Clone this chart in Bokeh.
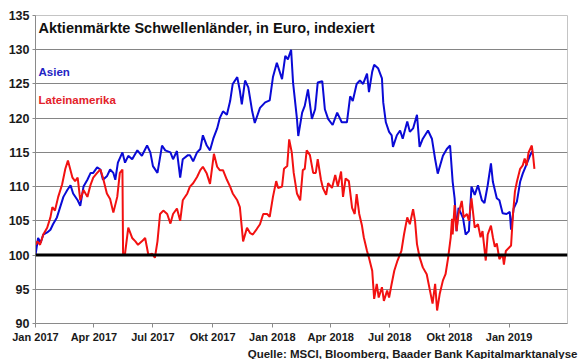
import pandas as pd
from bokeh.plotting import figure
from bokeh.models import Range1d, FixedTicker, Span, Label, ColumnDataSource, Title
from bokeh.embed import file_html
from bokeh.resources import INLINE

# ---------------- data ----------------
title_text = "Aktienmärkte Schwellenländer, in Euro, indexiert"
source_text = "Quelle: MSCI, Bloomberg, Baader Bank Kapitalmarktanalyse"
series_names = ["Asien", "Lateinamerika"]

asien_dates = [
    "2017-01-01", "2017-01-05", "2017-01-09", "2017-01-13", "2017-01-19", "2017-01-24", "2017-01-28",
    "2017-02-03", "2017-02-08", "2017-02-13", "2017-02-19", "2017-02-24", "2017-02-28", "2017-03-07",
    "2017-03-11", "2017-03-16", "2017-03-22", "2017-03-27", "2017-03-31", "2017-04-06", "2017-04-11",
    "2017-04-15", "2017-04-21", "2017-04-26", "2017-05-01", "2017-05-04", "2017-05-08", "2017-05-15",
    "2017-05-19", "2017-05-24", "2017-05-30", "2017-06-07", "2017-06-14", "2017-06-22", "2017-06-27",
    "2017-07-01", "2017-07-08", "2017-07-15", "2017-07-20", "2017-07-28", "2017-08-01", "2017-08-07",
    "2017-08-12", "2017-08-16", "2017-08-24", "2017-08-27", "2017-09-01", "2017-09-07", "2017-09-12",
    "2017-09-16", "2017-09-22", "2017-09-27", "2017-10-02", "2017-10-08", "2017-10-12", "2017-10-17",
    "2017-10-23", "2017-10-28", "2017-11-01", "2017-11-08", "2017-11-12", "2017-11-15", "2017-11-20",
    "2017-11-25", "2017-12-01", "2017-12-05", "2017-12-13", "2017-12-21", "2017-12-28",
    "2018-01-02", "2018-01-08", "2018-01-16", "2018-01-21", "2018-01-25", "2018-01-30", "2018-02-02",
    "2018-02-08", "2018-02-10", "2018-02-16", "2018-02-20", "2018-02-25", "2018-03-03", "2018-03-08",
    "2018-03-12", "2018-03-19", "2018-03-23", "2018-03-28", "2018-04-04", "2018-04-11", "2018-04-18",
    "2018-04-26", "2018-05-01", "2018-05-05", "2018-05-11", "2018-05-16", "2018-05-21", "2018-05-27",
    "2018-05-30", "2018-06-04", "2018-06-07", "2018-06-13", "2018-06-19", "2018-06-21", "2018-06-25",
    "2018-06-30", "2018-07-04", "2018-07-06", "2018-07-12", "2018-07-17", "2018-07-21", "2018-07-28",
    "2018-08-01", "2018-08-06", "2018-08-12", "2018-08-16", "2018-08-21", "2018-08-29", "2018-09-04",
    "2018-09-09", "2018-09-13", "2018-09-21", "2018-09-27", "2018-10-02", "2018-10-06", "2018-10-09",
    "2018-10-12", "2018-10-15", "2018-10-22", "2018-10-26", "2018-10-31", "2018-11-04", "2018-11-09",
    "2018-11-14", "2018-11-20", "2018-11-24", "2018-11-29", "2018-12-04", "2018-12-07", "2018-12-13",
    "2018-12-17", "2018-12-22", "2018-12-28", "2019-01-02", "2019-01-04", "2019-01-08", "2019-01-13",
    "2019-01-18", "2019-01-22", "2019-01-28", "2019-02-02", "2019-02-06",
]
asien_values = [
    100.0, 102.5, 101.8, 103.0, 103.3, 103.7, 104.5,
    105.5, 107.0, 108.5, 109.5, 110.2, 109.0, 108.0,
    107.2, 110.0, 111.0, 112.0, 112.0, 112.8, 112.5,
    111.0, 111.5, 112.5, 112.0, 111.0, 113.5, 115.0,
    113.5, 114.5, 114.0, 115.3, 114.5, 116.0, 115.0,
    113.0, 112.0, 116.0, 115.3, 115.0, 114.0, 115.2,
    111.3, 114.0, 114.6, 114.6, 113.7, 115.0, 115.5,
    117.5, 116.0, 115.3, 117.0, 118.5, 120.0, 121.0,
    120.5, 122.5, 125.0, 126.0, 124.0, 122.0, 125.5,
    124.5, 121.0, 119.3, 121.5, 122.3, 122.6,
    126.0, 128.1, 125.7, 129.1, 128.6, 130.0, 125.2,
    119.9, 117.4, 120.8, 121.8, 124.2, 119.9, 121.3,
    125.2, 125.4, 121.3, 119.9, 119.0, 120.8, 119.4,
    119.4, 123.2, 122.5, 125.0, 125.5, 125.0, 126.5,
    123.8, 126.8, 127.8, 127.3, 125.8, 122.3, 119.4,
    118.0, 117.5, 115.8, 117.5, 118.2, 117.0, 119.5,
    118.0, 118.5, 120.5, 115.8, 117.0, 118.2, 117.0,
    114.0, 111.9, 114.5, 115.5, 116.0, 110.7, 108.3,
    103.5, 106.9, 105.4, 103.0, 103.5, 110.0, 108.8,
    110.2, 108.0, 107.6, 110.2, 113.4, 110.7, 108.3,
    108.0, 106.1, 106.0, 106.3, 103.7, 106.8, 107.8,
    110.7, 111.9, 113.3, 114.5, 115.2,
]

latam_dates = [
    "2017-01-01", "2017-01-04", "2017-01-08", "2017-01-13", "2017-01-19", "2017-01-24", "2017-01-27",
    "2017-01-31", "2017-02-05", "2017-02-11", "2017-02-16", "2017-02-20", "2017-02-27", "2017-03-03",
    "2017-03-07", "2017-03-11", "2017-03-16", "2017-03-22", "2017-03-27", "2017-03-31", "2017-04-06",
    "2017-04-11", "2017-04-15", "2017-04-21", "2017-04-26", "2017-05-01", "2017-05-07", "2017-05-11",
    "2017-05-15", "2017-05-16", "2017-05-19", "2017-05-24", "2017-05-30", "2017-06-04", "2017-06-08",
    "2017-06-14", "2017-06-19", "2017-06-24", "2017-06-30", "2017-07-04", "2017-07-08", "2017-07-12",
    "2017-07-17", "2017-07-23", "2017-07-28", "2017-08-01", "2017-08-07", "2017-08-12", "2017-08-16",
    "2017-08-23", "2017-08-27", "2017-09-01", "2017-09-07", "2017-09-12", "2017-09-16", "2017-09-22",
    "2017-09-27", "2017-10-03", "2017-10-08", "2017-10-12", "2017-10-17", "2017-10-23", "2017-10-28",
    "2017-11-01", "2017-11-08", "2017-11-12", "2017-11-17", "2017-11-23", "2017-11-28", "2017-12-02",
    "2017-12-08", "2017-12-13", "2017-12-18", "2017-12-24", "2017-12-28",
    "2018-01-02", "2018-01-07", "2018-01-10", "2018-01-16", "2018-01-19", "2018-01-24", "2018-01-27",
    "2018-01-31", "2018-02-03", "2018-02-08", "2018-02-13", "2018-02-17", "2018-02-20", "2018-02-23",
    "2018-02-28", "2018-03-05", "2018-03-09", "2018-03-12", "2018-03-17", "2018-03-20", "2018-03-25",
    "2018-03-28", "2018-04-03", "2018-04-08", "2018-04-12", "2018-04-17", "2018-04-20", "2018-04-24",
    "2018-04-29", "2018-05-04", "2018-05-08", "2018-05-11", "2018-05-15", "2018-05-19", "2018-05-22",
    "2018-05-27", "2018-05-30", "2018-06-04", "2018-06-07", "2018-06-11", "2018-06-14", "2018-06-19",
    "2018-06-22", "2018-06-27", "2018-06-30", "2018-07-04", "2018-07-08", "2018-07-13", "2018-07-19",
    "2018-07-23", "2018-07-28", "2018-08-01", "2018-08-06", "2018-08-09", "2018-08-12", "2018-08-16",
    "2018-08-21", "2018-08-27", "2018-09-01", "2018-09-05", "2018-09-09", "2018-09-12", "2018-09-16",
    "2018-09-21", "2018-09-25", "2018-09-29", "2018-10-03", "2018-10-05", "2018-10-06", "2018-10-09",
    "2018-10-12", "2018-10-15", "2018-10-20", "2018-10-23", "2018-10-28", "2018-10-31", "2018-11-04",
    "2018-11-09", "2018-11-14", "2018-11-18", "2018-11-21", "2018-11-26", "2018-11-29", "2018-12-04",
    "2018-12-07", "2018-12-10", "2018-12-13", "2018-12-17", "2018-12-22", "2018-12-24", "2018-12-27",
    "2019-01-04", "2019-01-07", "2019-01-10", "2019-01-13", "2019-01-18", "2019-01-22", "2019-01-25",
    "2019-01-28", "2019-01-31", "2019-02-05", "2019-02-07", "2019-02-09",
]
latam_values = [
    101.5, 102.0, 101.5, 103.0, 104.0, 105.5, 107.0,
    106.5, 108.5, 110.3, 112.6, 113.8, 111.3, 110.8,
    111.3, 108.0, 109.5, 108.5, 110.3, 111.3, 112.0,
    112.5, 111.3, 109.0, 108.2, 106.2, 108.5, 112.0,
    112.5, 100.0, 100.2, 104.0, 102.5, 102.0, 101.5,
    102.0, 102.5, 100.0, 100.2, 99.6, 102.0, 106.0,
    106.5, 106.0, 104.6, 106.0, 106.8, 105.0, 108.0,
    109.0, 110.0, 110.5, 111.4, 112.4, 112.9, 111.9,
    110.4, 114.8, 112.9, 112.4, 112.4, 111.0, 110.0,
    109.0, 108.0, 107.0, 102.0, 104.0, 103.2, 103.0,
    103.8, 104.5, 106.0, 106.0, 105.6,
    108.5, 110.8, 109.8, 110.0, 112.6, 113.0, 116.9,
    115.0, 112.0, 109.0, 108.0, 112.4, 112.6, 115.3,
    114.6, 112.0, 112.0, 114.0, 111.0, 109.8, 108.8,
    110.5, 109.8, 111.7, 110.0, 112.2, 108.5, 111.2,
    110.8, 106.9, 106.0, 108.9, 106.0, 104.4, 102.6,
    100.6, 99.6, 97.7, 93.6, 95.8, 93.8, 95.3,
    93.3, 94.8, 93.8, 95.8, 97.7, 99.2, 100.6,
    103.0, 105.5, 104.5, 106.7, 105.0, 101.6, 99.7,
    98.2, 97.2, 94.8, 92.9, 95.8, 91.9, 94.3,
    96.3, 97.2, 99.6, 102.6, 105.3, 103.0, 107.3,
    103.5, 106.0, 107.9, 105.5, 106.0, 105.0, 108.3,
    104.0, 104.5, 102.6, 103.5, 99.2, 103.0, 104.3,
    102.6, 101.2, 101.7, 99.4, 100.1, 98.6, 100.6,
    101.4, 106.0, 109.3, 110.7, 112.6, 113.1, 114.1,
    113.1, 115.0, 116.0, 114.5, 112.6,
]

baseline_value = 100
y_ticks = [90, 95, 100, 105, 110, 115, 120, 125, 130, 135]
y_grid = [95, 105, 110, 115, 120, 125, 130]
x_start, x_end = "2017-01-01", "2019-04-01"
tick_dates = ["2017-01-01", "2017-04-01", "2017-07-01", "2017-10-01", "2018-01-01",
              "2018-04-01", "2018-07-01", "2018-10-01", "2019-01-01"]
tick_labels = ["Jan 2017", "Apr 2017", "Jul 2017", "Okt 2017", "Jan 2018",
               "Apr 2018", "Jul 2018", "Okt 2018", "Jan 2019"]

# ---------------- styling ----------------
FONT = "Liberation Sans"
BLUE = "#0a0ad6"
RED = "#f21111"
BLUE_TXT = "#2323c4"
RED_TXT = "#e3222a"
TXT = "#1a1a1a"


def ms(d):
    return int(pd.Timestamp(d).value // 10**6)


p = figure(width=580, height=359, x_axis_type="datetime",
           x_range=Range1d(pd.Timestamp(x_start), pd.Timestamp(x_end)),
           y_range=Range1d(90, 135),
           output_backend="svg", toolbar_location=None,
           min_border_left=35, min_border_right=13, min_border_top=15, min_border_bottom=20)

p.background_fill_color = "white"
p.border_fill_color = "white"
p.outline_line_color = "#c4c4c4"
p.outline_line_width = 1

# grid
p.xgrid.visible = False
p.ygrid.ticker = FixedTicker(ticks=y_grid)
p.ygrid.grid_line_color = "#858585"
p.ygrid.grid_line_width = 1

# axes
p.yaxis.ticker = FixedTicker(ticks=y_ticks)
p.yaxis.axis_line_color = "#8a8a8a"
p.yaxis.major_tick_line_color = "#8a8a8a"
p.yaxis.major_tick_out = 3
p.yaxis.major_tick_in = 0
p.yaxis.minor_tick_line_color = None
p.yaxis.major_label_standoff = 3
p.yaxis.major_label_text_font = FONT
p.yaxis.major_label_text_font_style = "bold"
p.yaxis.major_label_text_font_size = "12.5px"
p.yaxis.major_label_text_color = TXT

tick_ms = [ms(d) for d in tick_dates]
p.xaxis.ticker = FixedTicker(ticks=tick_ms)
p.xaxis.major_label_overrides = {t: lab for t, lab in zip(tick_ms, tick_labels)}
p.xaxis.axis_line_color = "#8a8a8a"
p.xaxis.major_tick_line_color = "#8a8a8a"
p.xaxis.major_tick_out = 4
p.xaxis.major_tick_in = 0
p.xaxis.minor_tick_line_color = None
p.xaxis.major_label_standoff = 3
p.xaxis.major_label_text_font = FONT
p.xaxis.major_label_text_font_style = "bold"
p.xaxis.major_label_text_font_size = "11px"
p.xaxis.major_label_text_color = TXT

# baseline
p.add_layout(Span(location=baseline_value, dimension="width", line_color="black", line_width=3))

# lines
src_a = ColumnDataSource(dict(x=pd.to_datetime(asien_dates), y=asien_values))
src_l = ColumnDataSource(dict(x=pd.to_datetime(latam_dates), y=latam_values))
p.line("x", "y", source=src_a, line_color=BLUE, line_width=2)
p.line("x", "y", source=src_l, line_color=RED, line_width=2)

# texts
p.add_layout(Label(x=3, y=296, x_units="screen", y_units="screen", text=title_text,
                   text_font=FONT, text_font_style="bold", text_font_size="14.5px",
                   text_color="#111111", text_baseline="middle"))
p.add_layout(Label(x=3, y=252, x_units="screen", y_units="screen", text=series_names[0],
                   text_font=FONT, text_font_style="bold", text_font_size="11.5px",
                   text_color=BLUE_TXT, text_baseline="middle"))
p.add_layout(Label(x=3, y=224, x_units="screen", y_units="screen", text=series_names[1],
                   text_font=FONT, text_font_style="bold", text_font_size="11.5px",
                   text_color=RED_TXT, text_baseline="middle"))
p.add_layout(Title(text=source_text, align="right", offset=-10, standoff=0,
                   text_font=FONT, text_font_style="bold", text_font_size="11.5px",
                   text_color=TXT), "below")

open("out.html", "w").write(file_html(p, INLINE))
